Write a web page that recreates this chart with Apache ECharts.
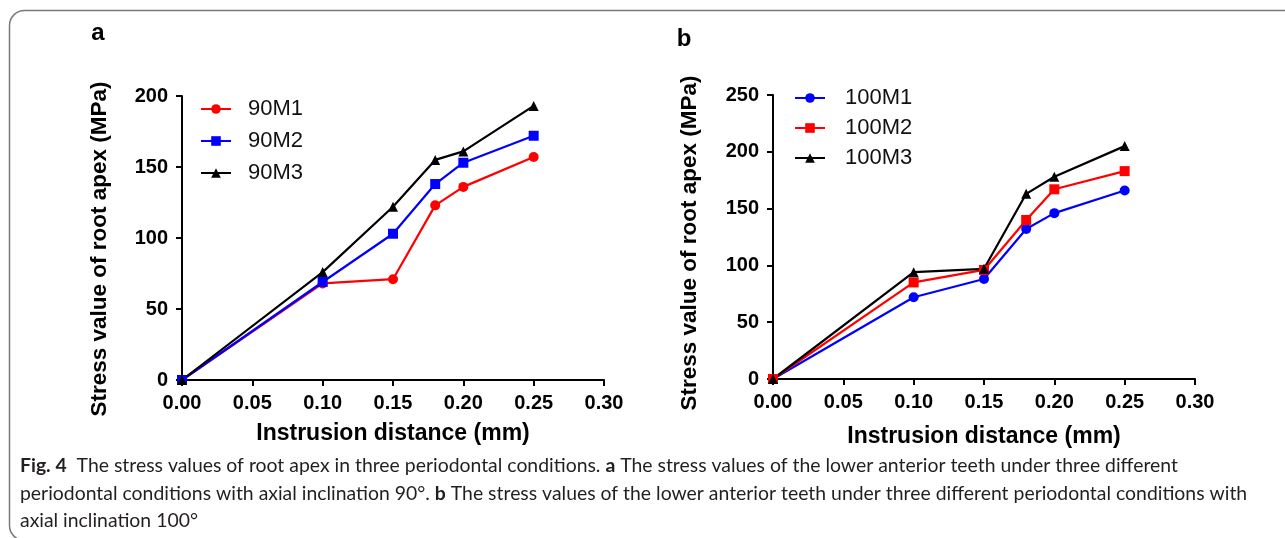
<!DOCTYPE html>
<html>
<head>
<meta charset="utf-8">
<script src="https://cdn.jsdelivr.net/npm/echarts@6/dist/echarts.min.js"></script>
<style>
  html, body { margin: 0; padding: 0; background: #fff; }
  #chart { width: 1285px; height: 538px; }
</style>
</head>
<body>
<div id="chart"></div>
<script>
// 数据
const xVals = [0, 0.10, 0.15, 0.18, 0.20, 0.25]
const s90M1 = [0, 68, 71, 123, 136, 157]
const s90M2 = [0, 69, 103, 138, 153, 172]
const s90M3 = [0, 76, 122, 155, 161, 193]
const s100M1 = [0, 72, 88, 132, 146, 166]
const s100M2 = [0, 85, 96, 140, 167, 183]
const s100M3 = [0, 94, 97, 163, 178, 205]
const namesA = ['90M1', '90M2', '90M3']
const namesB = ['100M1', '100M2', '100M3']
const xName = 'Instrusion distance (mm)'
const yName = 'Stress value of root apex (MPa)'
const captionLines = [
  '{b|Fig. 4}  The stress values of root apex in three periodontal conditions. {b|a} The stress values of the lower anterior teeth under three different',
  'periodontal conditions with axial inclination 90°. {b|b} The stress values of the lower anterior teeth under three different periodontal conditions with',
  'axial inclination 100°'
]

const RED = '#ff0000'
const BLUE = '#0000ff'
const BLACK = '#000000'
const FONT = 'Liberation Sans, Arial, sans-serif'
const CAP_FONT = 'Lato, sans-serif'
const CAP_SIZE = 19.4

function pairs(vals) {
  return xVals.map((x, i) => [x, vals[i]])
}

function xAxis(gridIndex, gap) {
  return {
    type: 'value',
    gridIndex: gridIndex,
    min: 0,
    max: 0.3,
    interval: 0.05,
    name: xName,
    nameLocation: 'middle',
    nameGap: gap,
    nameTextStyle: { color: BLACK, fontSize: 23, fontWeight: 'bold', fontFamily: FONT },
    axisLine: { show: true, onZero: false, lineStyle: { color: BLACK, width: 2 } },
    axisTick: { show: true, length: 6, lineStyle: { color: BLACK, width: 2 } },
    axisLabel: {
      show: true,
      color: BLACK,
      fontSize: 20,
      fontWeight: 'bold',
      fontFamily: FONT,
      margin: 13,
      formatter: v => v.toFixed(2)
    },
    splitLine: { show: false }
  }
}

function yAxis(gridIndex, max, gap, shift) {
  return {
    type: 'value',
    gridIndex: gridIndex,
    min: 0,
    max: max,
    interval: 50,
    name: yName,
    nameLocation: 'middle',
    nameRotate: 90,
    nameGap: gap,
    nameTextStyle: {
      color: BLACK, fontSize: 22.5, fontWeight: 'bold', fontFamily: FONT,
      padding: [0, shift, 0, 0]
    },
    axisLine: { show: true, lineStyle: { color: BLACK, width: 2 } },
    axisTick: { show: true, length: 6, lineStyle: { color: BLACK, width: 2 } },
    axisLabel: {
      show: true,
      color: BLACK,
      fontSize: 20,
      fontWeight: 'bold',
      fontFamily: FONT,
      margin: 14
    },
    splitLine: { show: false }
  }
}

function line(name, idx, vals, color, symbol, size) {
  return {
    name: name,
    type: 'line',
    xAxisIndex: idx,
    yAxisIndex: idx,
    data: pairs(vals),
    symbol: symbol,
    symbolSize: size,
    showAllSymbol: true,
    lineStyle: { color: color, width: 2.2 },
    itemStyle: { color: color, borderWidth: 0 },
    animation: false
  }
}

function legend(names, left, top, gap, pad) {
  return {
    data: names,
    orient: 'vertical',
    left: left,
    top: top,
    itemGap: gap,
    itemWidth: 30,
    itemHeight: 12,
    textStyle: { color: '#111', fontSize: 22, fontFamily: FONT, padding: [0, 0, 0, pad] }
  }
}

const chart = echarts.init(document.getElementById('chart'))

const option = {
  backgroundColor: '#fff',
  animation: false,
  grid: [
    { left: 182, top: 96, width: 422, height: 284, containLabel: false },
    { left: 773, top: 95, width: 422, height: 284, containLabel: false }
  ],
  xAxis: [xAxis(0, 42), xAxis(1, 46)],
  yAxis: [yAxis(0, 200, 71, 22), yAxis(1, 250, 72, 12)],
  legend: [
    legend(namesA, 195, 93, 10, 12),
    legend(namesB, 789, 82, 8, 15)
  ],
  series: [
    line(namesA[0], 0, s90M1, RED, 'circle', 10),
    line(namesA[1], 0, s90M2, BLUE, 'rect', 10),
    line(namesA[2], 0, s90M3, BLACK, 'triangle', 10),
    line(namesB[0], 1, s100M1, BLUE, 'circle', 10),
    line(namesB[1], 1, s100M2, RED, 'rect', 10),
    line(namesB[2], 1, s100M3, BLACK, 'triangle', 10)
  ],
  graphic: [
    {
      type: 'rect',
      silent: true,
      shape: { x: 9.5, y: 10.5, width: 1400, height: 530, r: 15 },
      style: { fill: 'none', stroke: '#7a7a7a', lineWidth: 1.5 }
    },
    {
      type: 'text', x: 98, y: 33,
      style: { text: 'a', fill: BLACK, font: 'bold 24px ' + FONT, align: 'center', verticalAlign: 'middle' }
    },
    {
      type: 'text', x: 684, y: 39,
      style: { text: 'b', fill: BLACK, font: 'bold 24px ' + FONT, align: 'center', verticalAlign: 'middle' }
    }
  ].concat(captionLines.map((t, i) => ({
    type: 'text',
    x: 20,
    y: 466 + i * 27.5,
    style: {
      text: t,
      fill: '#231f20',
      fontSize: CAP_SIZE,
      fontFamily: CAP_FONT,
      verticalAlign: 'middle',
      rich: { b: { fontWeight: 'bold', fontSize: CAP_SIZE, fontFamily: CAP_FONT, fill: '#231f20' } }
    }
  })))
}

chart.setOption(option)
</script>
</body>
</html>
